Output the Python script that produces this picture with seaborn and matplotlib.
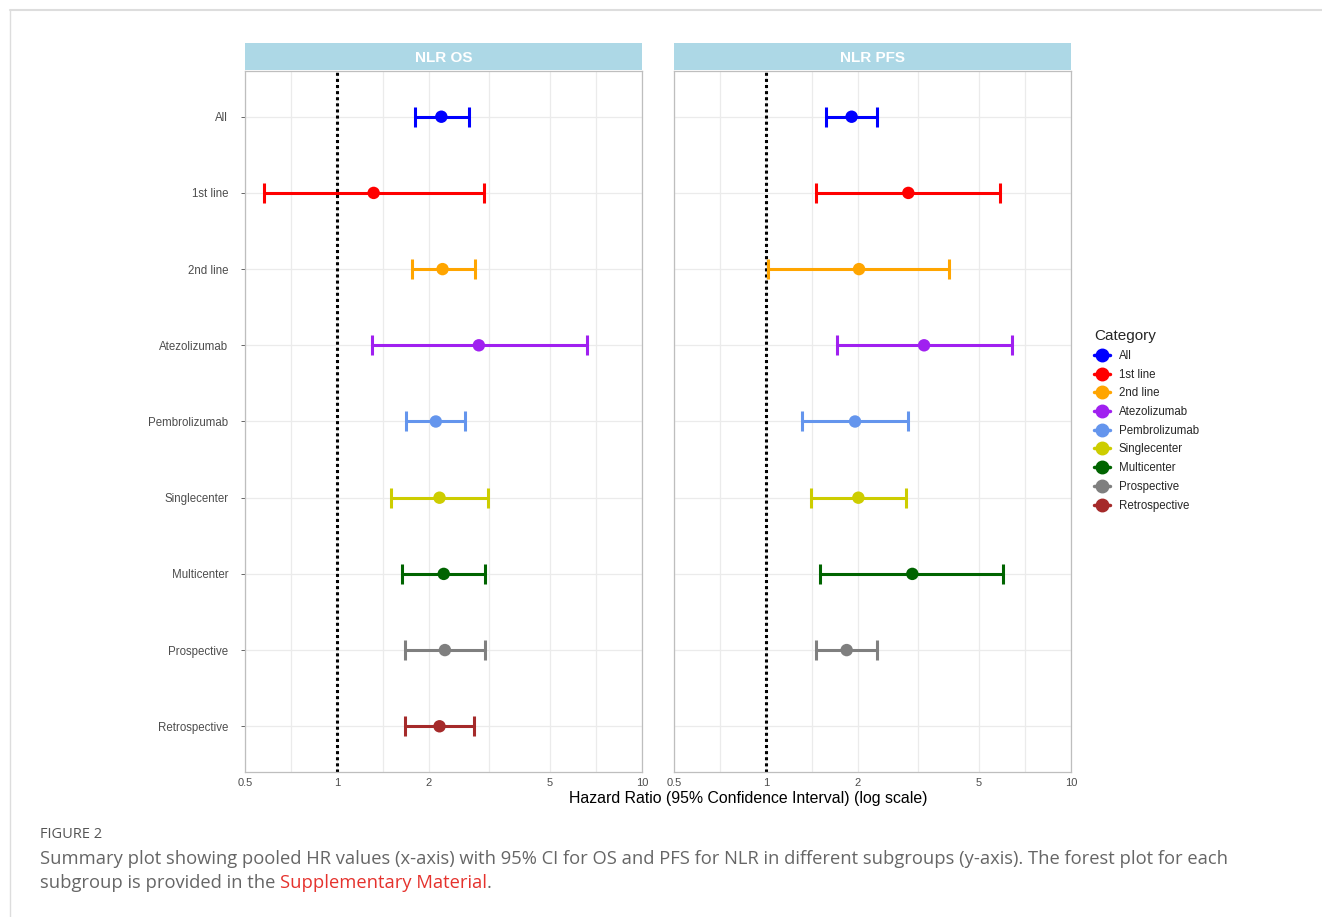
import numpy as np
import pandas as pd
import matplotlib
matplotlib.use('agg')
import matplotlib.pyplot as plt
import seaborn as sns
from matplotlib.lines import Line2D
from matplotlib.patches import Rectangle

categories = ["All", "1st line", "2nd line", "Atezolizumab", "Pembrolizumab",
              "Singlecenter", "Multicenter", "Prospective", "Retrospective"]
colors = ["#0000FF", "#FF0000", "#FFA500", "#A020F0", "#6495ED",
          "#CDCD00", "#006400", "#7F7F7F", "#A52A2A"]

# NLR OS
os_hr = [2.20, 1.32, 2.22, 2.92, 2.11, 2.17, 2.24, 2.26, 2.17]
os_lo = [1.80, 0.575, 1.76, 1.30, 1.69, 1.50, 1.64, 1.67, 1.67]
os_hi = [2.71, 3.04, 2.83, 6.62, 2.63, 3.13, 3.05, 3.05, 2.81]

# NLR PFS (no retrospective estimate)
pfs_hr = [1.91, 2.93, 2.02, 3.30, 1.96, 2.01, 3.02, 1.84, np.nan]
pfs_lo = [1.575, 1.465, 1.02, 1.71, 1.31, 1.41, 1.50, 1.465, np.nan]
pfs_hi = [2.32, 5.87, 3.99, 6.40, 2.92, 2.87, 5.97, 2.31, np.nan]

panels = ["NLR OS", "NLR PFS"]
xticks = [0.5, 1, 2, 5, 10]
xticklabels = ["0.5", "1", "2", "5", "10"]

df = pd.concat([
    pd.DataFrame({"panel": "NLR OS", "Category": categories, "hr": os_hr, "lo": os_lo, "hi": os_hi}),
    pd.DataFrame({"panel": "NLR PFS", "Category": categories, "hr": pfs_hr, "lo": pfs_lo, "hi": pfs_hi}),
]).dropna()
df["y"] = df["Category"].map({c: i for i, c in enumerate(categories)})
palette = dict(zip(categories, colors))

sns.set_theme(style="white")
plt.rcParams['font.family'] = ['Liberation Sans', 'DejaVu Sans']

fig = plt.figure(figsize=(13.22, 9.17), dpi=100)
W, H = 1322, 917
axes = [fig.add_axes([245 / W, 1 - 772 / H, 397 / W, 701 / H]),
        fig.add_axes([674 / W, 1 - 772 / H, 397 / W, 701 / H])]

minor = [0.7071, 1.4142, 3.1623, 7.0711]
for ax, panel in zip(axes, panels):
    sub = df[df["panel"] == panel]
    ax.set_xscale("log")
    ax.set_xlim(0.5, 10)
    ax.set_ylim(8.6, -0.6)
    for x in xticks + minor:
        ax.axvline(x, color="#EBEBEB", lw=0.9, zorder=0)
    for i in range(len(categories)):
        ax.axhline(i, color="#EBEBEB", lw=0.9, zorder=0)
    ax.axvline(1.0, color="black", lw=2.2, ls=(0, (1, 1)), zorder=1)
    for _, r in sub.iterrows():
        ax.errorbar(r["hr"], r["y"], xerr=[[r["hr"] - r["lo"]], [r["hi"] - r["hr"]]],
                    fmt="none", ecolor=palette[r["Category"]], elinewidth=2.2,
                    capsize=7, capthick=2.2, zorder=2)
    sns.scatterplot(data=sub, x="hr", y="y", hue="Category", palette=palette,
                    hue_order=categories, s=80, edgecolor="none", legend=False,
                    ax=ax, zorder=3)
    ax.set_xticks(xticks)
    ax.set_xticklabels(xticklabels)
    ax.xaxis.set_minor_locator(matplotlib.ticker.NullLocator())
    ax.set_yticks(range(len(categories)))
    ax.set_xlabel("")
    ax.set_ylabel("")
    ax.tick_params(axis="x", labelsize=8, colors="#4D4D4D", length=0, pad=4)
    ax.tick_params(axis="y", labelsize=8.3, colors="#4D4D4D", length=3, width=0.6,
                   left=True, pad=9)
    for s in ax.spines.values():
        s.set_color("#BEBEBE")
        s.set_linewidth(0.9)
    ax.add_patch(Rectangle((0, 1.0015), 1, 27 / 701, transform=ax.transAxes,
                           facecolor="#ADD8E6", edgecolor="none", clip_on=False))
    ax.text(0.5, 1 + 12.5 / 701, panel, transform=ax.transAxes, ha="center",
            va="center", color="white", fontsize=11, fontweight="bold")

axes[0].set_yticklabels(categories)
axes[1].set_yticklabels([])
axes[1].tick_params(axis="y", length=0)

fig.text(748 / W, 1 - 798 / H, "Hazard Ratio (95% Confidence Interval) (log scale)",
         ha="center", va="center", fontsize=11.4, color="black")

handles = [Line2D([0], [0], color=c, lw=2.5, marker="o", markersize=9, label=l)
           for l, c in zip(categories, colors)]
fig.legend(handles=handles, title="Category", loc="upper left",
           bbox_to_anchor=(1084 / W, 1 - 319 / H), frameon=False, fontsize=8.3,
           title_fontsize=11, handlelength=1.35, handletextpad=0.75,
           labelspacing=0.58, alignment="left")

# page frame
fig.add_artist(Line2D([10 / W, 1], [1 - 10 / H, 1 - 10 / H], color="#DDDDDD", lw=1.5))
fig.add_artist(Line2D([10 / W, 10 / W], [0, 1 - 10 / H], color="#DDDDDD", lw=1))

cap_font = ['Open Sans', 'DejaVu Sans']
fig.text(40 / W, 1 - 835 / H, "FIGURE 2", ha="left", va="center", fontsize=10.5,
         color="#555555", family=cap_font)
fig.text(40 / W, 1 - 859 / H,
         "Summary plot showing pooled HR values (x-axis) with 95% CI for OS and PFS for NLR in different subgroups (y-axis). The forest plot for each",
         ha="left", va="center", fontsize=13.2, color="#666666", family=cap_font)
t1 = fig.text(40 / W, 1 - 888 / H, "subgroup is provided in the ", ha="left",
              va="baseline", fontsize=13.2, color="#666666", family=cap_font)
t2 = axes[0].annotate("Supplementary Material", xy=(1, 0), xycoords=t1, ha="left",
                      va="bottom", fontsize=13.2, color="#E5322D", family=cap_font,
                      annotation_clip=False)
axes[0].annotate(".", xy=(1, 0), xycoords=t2, ha="left", va="bottom", fontsize=13.2,
                 color="#666666", family=cap_font, annotation_clip=False)

fig.savefig("out.png", dpi=100)
